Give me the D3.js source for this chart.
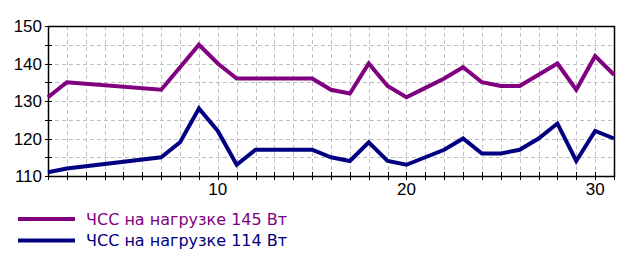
<!DOCTYPE html>
<html>
<head>
<meta charset="utf-8">
<script src="https://cdn.jsdelivr.net/npm/d3@7"></script>
<style>
  body { margin: 0; background: #fff; }
  svg text { font-family: "Liberation Sans", Arial, sans-serif; }
</style>
</head>
<body>
<div class="chart"></div>
<script>
// days with measurements (3-6 are missing)
var days = [1, 2, 7, 8, 9, 10, 11, 12, 13, 14, 15, 16, 17, 18, 19, 20, 21, 22, 23, 24, 25, 26, 27, 28, 29, 30, 31];
var hr145 = [131, 135, 133, 139, 145, 140, 136, 136, 136, 136, 136, 133, 132, 140, 134, 131, 133.5, 136, 139, 135, 134, 134, 137, 140, 133, 142, 137];
var hr114 = [111, 112, 115, 119, 128, 122, 113, 117, 117, 117, 117, 115, 114, 119, 114, 113, 115, 117, 120, 116, 116, 117, 120, 124, 114, 122, 120];
var seriesNames = ["ЧСС на нагрузке 145 Вт", "ЧСС на нагрузке 114 Вт"];
var seriesColors = ["#800080", "#000080"];
var yTicks = [110, 120, 130, 140, 150];
var xTicks = [10, 20, 30];

var margin = {top: 26, right: 25, bottom: 89, left: 48},
    width = 639 - margin.left - margin.right,
    height = 265 - margin.top - margin.bottom;

var svg = d3.select(".chart")
	.append("svg")
	.attr("width", 639)
	.attr("height", 265)
	.append("g")
	.attr("transform", "translate(" + margin.left + "," + margin.top + ")");

var x = d3.scaleLinear().domain([1, 31]).range([0, width]);
var y = d3.scaleLinear().domain([110, 150]).range([height, 0]);

// grid
svg.append("g")
	.selectAll("line")
	.data(d3.range(2, 31))
	.enter()
	.append("line")
	.attr("x1", function(d) { return Math.round(x(d)) + 0.5; })
	.attr("x2", function(d) { return Math.round(x(d)) + 0.5; })
	.attr("y1", 0)
	.attr("y2", height)
	.attr("stroke", "#c0c0c0")
	.attr("stroke-dasharray", "4,3");

svg.append("g")
	.selectAll("line")
	.data(d3.range(115, 150, 5))
	.enter()
	.append("line")
	.attr("y1", function(d) { return Math.round(y(d)) + 0.5; })
	.attr("y2", function(d) { return Math.round(y(d)) + 0.5; })
	.attr("x1", 0)
	.attr("x2", width)
	.attr("stroke", "#c0c0c0")
	.attr("stroke-dasharray", "4,3");

// frame
svg.append("path")
	.attr("d", "M0.5,0.5H" + (width + 0.5) + "V" + (height + 0.5) + "H0.5Z")
	.attr("fill", "none")
	.attr("stroke", "black")
	.attr("stroke-width", 1.5);

// ticks crossing the axes
svg.append("g")
	.selectAll("line")
	.data(d3.range(110, 151, 5))
	.enter()
	.append("line")
	.attr("x1", -3).attr("x2", 4)
	.attr("y1", function(d) { return Math.round(y(d)) + 0.5; })
	.attr("y2", function(d) { return Math.round(y(d)) + 0.5; })
	.attr("stroke", "black");

svg.append("g")
	.selectAll("line")
	.data(d3.range(1, 32))
	.enter()
	.append("line")
	.attr("y1", height - 4).attr("y2", height + 4)
	.attr("x1", function(d) { return Math.round(x(d)) + 0.5; })
	.attr("x2", function(d) { return Math.round(x(d)) + 0.5; })
	.attr("stroke", "black");

// tick labels
svg.append("g")
	.selectAll("text")
	.data(yTicks)
	.enter()
	.append("text")
	.attr("x", -6)
	.attr("y", function(d) { return y(d); })
	.attr("dy", "0.36em")
	.attr("text-anchor", "end")
	.style("font-size", "17px")
	.text(function(d) { return d; });

svg.append("g")
	.selectAll("text")
	.data(xTicks)
	.enter()
	.append("text")
	.attr("x", function(d) { return x(d); })
	.attr("y", height + 19)
	.attr("text-anchor", "middle")
	.style("font-size", "17px")
	.text(function(d) { return d; });

// lines
var line = d3.line()
	.x(function(d) { return x(d[0]); })
	.y(function(d) { return y(d[1]); });

[hr145, hr114].forEach(function(vals, i) {
	svg.append("path")
		.datum(days.map(function(d, j) { return [d, vals[j]]; }))
		.attr("fill", "none")
		.attr("stroke", seriesColors[i])
		.attr("stroke-width", 4)
		.attr("stroke-linejoin", "miter")
		.attr("d", line);
});

// legend
var legend = d3.select(".chart svg").append("g");
seriesNames.forEach(function(name, i) {
	var ly = 219 + i * 21.5;
	legend.append("line")
		.attr("x1", 18).attr("x2", 75)
		.attr("y1", ly).attr("y2", ly)
		.attr("stroke", seriesColors[i])
		.attr("stroke-width", 4);
	legend.append("text")
		.attr("x", 86)
		.attr("y", ly)
		.attr("dy", "0.36em")
		.attr("fill", seriesColors[i])
		.style("font-family", "'DejaVu Sans', sans-serif")
		.style("font-size", "16px")
		.text(name);
});
</script>
</body>
</html>
